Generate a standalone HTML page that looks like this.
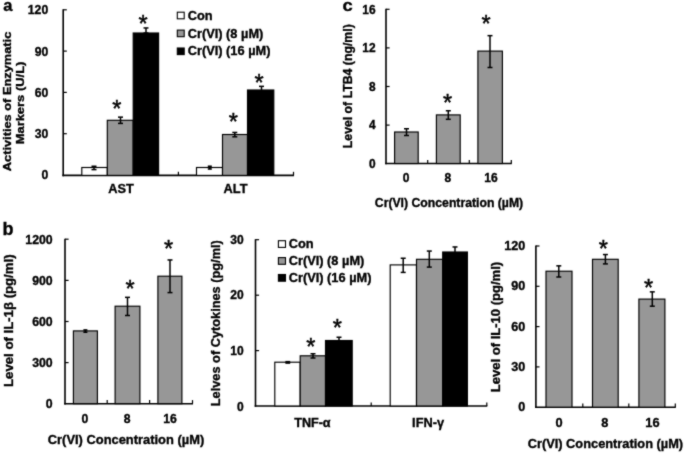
<!DOCTYPE html>
<html><head><meta charset="utf-8"><title>Figure</title>
<style>
html,body{margin:0;padding:0;background:#fff;}
body{width:685px;height:453px;overflow:hidden;font-family:"Liberation Sans",sans-serif;}
svg{display:block;}
svg text{font-family:"Liberation Sans",sans-serif;fill:#000;stroke:#000;stroke-width:0.35px;}
</style></head><body>
<svg width="685" height="453" viewBox="0 0 685 453">
<defs><filter id="soft" x="0" y="0" width="685" height="453" filterUnits="userSpaceOnUse" color-interpolation-filters="sRGB">
<feConvolveMatrix order="3" kernelMatrix="0.03 0.08 0.03 0.08 0.56 0.08 0.03 0.08 0.03" divisor="1" edgeMode="duplicate" preserveAlpha="false"/>
</filter></defs>
<g filter="url(#soft)">
<rect x="0" y="0" width="685" height="453" fill="#ffffff"/>
<text x="3.20" y="10.50" font-size="16.5" text-anchor="start" font-weight="bold">a</text>
<line x1="63.20" y1="9.30" x2="63.20" y2="176.20" stroke="#000" stroke-width="1.6"/>
<line x1="62.40" y1="175.40" x2="294.00" y2="175.40" stroke="#000" stroke-width="1.6"/>
<line x1="63.20" y1="9.80" x2="66.80" y2="9.80" stroke="#000" stroke-width="1.2"/>
<line x1="63.20" y1="51.10" x2="66.80" y2="51.10" stroke="#000" stroke-width="1.2"/>
<line x1="63.20" y1="92.40" x2="66.80" y2="92.40" stroke="#000" stroke-width="1.2"/>
<line x1="63.20" y1="133.70" x2="66.80" y2="133.70" stroke="#000" stroke-width="1.2"/>
<line x1="178.40" y1="175.40" x2="178.40" y2="171.80" stroke="#000" stroke-width="1.2"/>
<line x1="293.50" y1="175.40" x2="293.50" y2="171.80" stroke="#000" stroke-width="1.2"/>
<text x="48.20" y="14.30" font-size="12.2" text-anchor="end" font-weight="bold">120</text>
<text x="48.20" y="55.60" font-size="12.2" text-anchor="end" font-weight="bold">90</text>
<text x="48.20" y="96.90" font-size="12.2" text-anchor="end" font-weight="bold">60</text>
<text x="48.20" y="138.20" font-size="12.2" text-anchor="end" font-weight="bold">30</text>
<text x="48.20" y="179.40" font-size="12.2" text-anchor="end" font-weight="bold">0</text>
<rect x="81.80" y="167.50" width="25.50" height="7.90" fill="#fff" stroke="#000" stroke-width="1.15"/>
<rect x="107.30" y="120.30" width="25.90" height="55.10" fill="#979797" stroke="#000" stroke-width="1.15"/>
<rect x="133.20" y="33.00" width="25.40" height="142.40" fill="#000" stroke="#000" stroke-width="1.15"/>
<rect x="196.50" y="167.50" width="26.00" height="7.90" fill="#fff" stroke="#000" stroke-width="1.15"/>
<rect x="222.50" y="134.50" width="25.00" height="40.90" fill="#979797" stroke="#000" stroke-width="1.15"/>
<rect x="247.50" y="90.00" width="26.30" height="85.40" fill="#000" stroke="#000" stroke-width="1.15"/>
<line x1="94.00" y1="166.25" x2="94.00" y2="169.60" stroke="#000" stroke-width="1.5"/>
<line x1="91.50" y1="166.25" x2="96.50" y2="166.25" stroke="#000" stroke-width="1.5"/>
<line x1="91.50" y1="169.60" x2="96.50" y2="169.60" stroke="#000" stroke-width="1.5"/>
<line x1="120.50" y1="117.15" x2="120.50" y2="123.40" stroke="#000" stroke-width="1.5"/>
<line x1="118.00" y1="117.15" x2="123.00" y2="117.15" stroke="#000" stroke-width="1.5"/>
<line x1="118.00" y1="123.40" x2="123.00" y2="123.40" stroke="#000" stroke-width="1.5"/>
<line x1="146.00" y1="27.95" x2="146.00" y2="33.00" stroke="#000" stroke-width="1.5"/>
<line x1="143.50" y1="27.95" x2="148.50" y2="27.95" stroke="#000" stroke-width="1.5"/>
<line x1="143.50" y1="33.00" x2="148.50" y2="33.00" stroke="#000" stroke-width="1.5"/>
<line x1="209.80" y1="166.25" x2="209.80" y2="169.00" stroke="#000" stroke-width="1.6"/>
<line x1="207.80" y1="166.25" x2="211.80" y2="166.25" stroke="#000" stroke-width="1.6"/>
<line x1="207.80" y1="169.00" x2="211.80" y2="169.00" stroke="#000" stroke-width="1.6"/>
<line x1="234.80" y1="132.45" x2="234.80" y2="136.80" stroke="#000" stroke-width="1.5"/>
<line x1="232.30" y1="132.45" x2="237.30" y2="132.45" stroke="#000" stroke-width="1.5"/>
<line x1="232.30" y1="136.80" x2="237.30" y2="136.80" stroke="#000" stroke-width="1.5"/>
<line x1="261.50" y1="86.35" x2="261.50" y2="91.00" stroke="#000" stroke-width="1.5"/>
<line x1="259.00" y1="86.35" x2="264.00" y2="86.35" stroke="#000" stroke-width="1.5"/>
<line x1="259.00" y1="91.00" x2="264.00" y2="91.00" stroke="#000" stroke-width="1.5"/>
<text x="116.90" y="116.55" font-size="23.5" text-anchor="middle" font-weight="normal" style="stroke-width:0.45px">*</text>
<text x="143.00" y="31.75" font-size="23.5" text-anchor="middle" font-weight="normal" style="stroke-width:0.45px">*</text>
<text x="233.30" y="129.65" font-size="23.5" text-anchor="middle" font-weight="normal" style="stroke-width:0.45px">*</text>
<text x="259.20" y="90.65" font-size="23.5" text-anchor="middle" font-weight="normal" style="stroke-width:0.45px">*</text>
<text x="121.00" y="193.20" font-size="12.8" text-anchor="middle" font-weight="bold">AST</text>
<text x="235.50" y="193.20" font-size="12.8" text-anchor="middle" font-weight="bold">ALT</text>
<text x="10.80" y="101.50" font-size="10.8" text-anchor="middle" font-weight="bold" textLength="139.5" lengthAdjust="spacingAndGlyphs" transform="rotate(-90 10.80 101.50)">Activities of Enzymatic</text>
<text x="24.00" y="103.00" font-size="10.8" text-anchor="middle" font-weight="bold" textLength="82.7" lengthAdjust="spacingAndGlyphs" transform="rotate(-90 24.00 103.00)">Markers (U/L)</text>
<rect x="177.30" y="12.20" width="6.90" height="6.60" fill="#fff" stroke="#000" stroke-width="1.1"/>
<text x="187.70" y="19.60" font-size="12.8" text-anchor="start" font-weight="bold">Con</text>
<rect x="177.30" y="30.10" width="6.90" height="6.60" fill="#979797" stroke="#000" stroke-width="1.1"/>
<text x="187.70" y="37.50" font-size="12.8" text-anchor="start" font-weight="bold">Cr(VI) (8 µM)</text>
<rect x="177.30" y="48.00" width="6.90" height="6.60" fill="#000" stroke="#000" stroke-width="1.1"/>
<text x="187.70" y="55.40" font-size="12.8" text-anchor="start" font-weight="bold">Cr(VI) (16 µM)</text>
<text x="342.60" y="11.00" font-size="17" text-anchor="start" font-weight="bold" textLength="10.2" lengthAdjust="spacingAndGlyphs">c</text>
<line x1="386.00" y1="8.80" x2="386.00" y2="164.30" stroke="#000" stroke-width="1.6"/>
<line x1="385.20" y1="163.50" x2="511.80" y2="163.50" stroke="#000" stroke-width="1.6"/>
<line x1="386.00" y1="9.30" x2="389.60" y2="9.30" stroke="#000" stroke-width="1.2"/>
<line x1="386.00" y1="47.90" x2="389.60" y2="47.90" stroke="#000" stroke-width="1.2"/>
<line x1="386.00" y1="86.50" x2="389.60" y2="86.50" stroke="#000" stroke-width="1.2"/>
<line x1="386.00" y1="125.10" x2="389.60" y2="125.10" stroke="#000" stroke-width="1.2"/>
<line x1="427.70" y1="163.50" x2="427.70" y2="159.90" stroke="#000" stroke-width="1.2"/>
<line x1="469.30" y1="163.50" x2="469.30" y2="159.90" stroke="#000" stroke-width="1.2"/>
<line x1="511.30" y1="163.50" x2="511.30" y2="159.90" stroke="#000" stroke-width="1.2"/>
<text x="375.50" y="13.50" font-size="11.9" text-anchor="end" font-weight="bold">16</text>
<text x="375.50" y="52.10" font-size="11.9" text-anchor="end" font-weight="bold">12</text>
<text x="375.50" y="90.70" font-size="11.9" text-anchor="end" font-weight="bold">8</text>
<text x="375.50" y="129.30" font-size="11.9" text-anchor="end" font-weight="bold">4</text>
<text x="375.50" y="167.70" font-size="11.9" text-anchor="end" font-weight="bold">0</text>
<rect x="394.60" y="132.00" width="23.60" height="31.50" fill="#979797" stroke="#000" stroke-width="1.15"/>
<rect x="436.40" y="114.90" width="23.80" height="48.60" fill="#979797" stroke="#000" stroke-width="1.15"/>
<rect x="477.90" y="51.10" width="24.50" height="112.40" fill="#979797" stroke="#000" stroke-width="1.15"/>
<line x1="406.50" y1="128.75" x2="406.50" y2="135.50" stroke="#000" stroke-width="1.5"/>
<line x1="404.00" y1="128.75" x2="409.00" y2="128.75" stroke="#000" stroke-width="1.5"/>
<line x1="404.00" y1="135.50" x2="409.00" y2="135.50" stroke="#000" stroke-width="1.5"/>
<line x1="448.30" y1="110.75" x2="448.30" y2="119.30" stroke="#000" stroke-width="1.5"/>
<line x1="445.80" y1="110.75" x2="450.80" y2="110.75" stroke="#000" stroke-width="1.5"/>
<line x1="445.80" y1="119.30" x2="450.80" y2="119.30" stroke="#000" stroke-width="1.5"/>
<line x1="490.00" y1="35.65" x2="490.00" y2="67.50" stroke="#000" stroke-width="1.5"/>
<line x1="487.50" y1="35.65" x2="492.50" y2="35.65" stroke="#000" stroke-width="1.5"/>
<line x1="487.50" y1="67.50" x2="492.50" y2="67.50" stroke="#000" stroke-width="1.5"/>
<text x="447.60" y="110.55" font-size="23.5" text-anchor="middle" font-weight="normal" style="stroke-width:0.45px">*</text>
<text x="486.20" y="31.95" font-size="23.5" text-anchor="middle" font-weight="normal" style="stroke-width:0.45px">*</text>
<text x="406.00" y="182.40" font-size="12" text-anchor="middle" font-weight="bold">0</text>
<text x="447.90" y="182.40" font-size="12" text-anchor="middle" font-weight="bold">8</text>
<text x="491.00" y="182.40" font-size="12" text-anchor="middle" font-weight="bold">16</text>
<text x="449.00" y="207.20" font-size="12.8" text-anchor="middle" font-weight="bold" textLength="148.4" lengthAdjust="spacingAndGlyphs">Cr(VI) Concentration (µM)</text>
<text x="352.20" y="86.20" font-size="12.6" text-anchor="middle" font-weight="bold" textLength="124.0" lengthAdjust="spacingAndGlyphs" transform="rotate(-90 352.20 86.20)">Level of LTB4 (ng/ml)</text>
<text x="2.60" y="235.40" font-size="18" text-anchor="start" font-weight="bold">b</text>
<line x1="65.00" y1="238.70" x2="65.00" y2="404.50" stroke="#000" stroke-width="1.6"/>
<line x1="64.20" y1="403.70" x2="193.00" y2="403.70" stroke="#000" stroke-width="1.6"/>
<line x1="65.00" y1="239.20" x2="68.60" y2="239.20" stroke="#000" stroke-width="1.2"/>
<line x1="65.00" y1="280.40" x2="68.60" y2="280.40" stroke="#000" stroke-width="1.2"/>
<line x1="65.00" y1="321.50" x2="68.60" y2="321.50" stroke="#000" stroke-width="1.2"/>
<line x1="65.00" y1="362.60" x2="68.60" y2="362.60" stroke="#000" stroke-width="1.2"/>
<line x1="107.20" y1="403.70" x2="107.20" y2="400.10" stroke="#000" stroke-width="1.2"/>
<line x1="149.60" y1="403.70" x2="149.60" y2="400.10" stroke="#000" stroke-width="1.2"/>
<line x1="192.50" y1="403.70" x2="192.50" y2="400.10" stroke="#000" stroke-width="1.2"/>
<text x="52.70" y="243.90" font-size="12.3" text-anchor="end" font-weight="bold">1200</text>
<text x="52.70" y="285.10" font-size="12.3" text-anchor="end" font-weight="bold">900</text>
<text x="52.70" y="326.20" font-size="12.3" text-anchor="end" font-weight="bold">600</text>
<text x="52.70" y="367.30" font-size="12.3" text-anchor="end" font-weight="bold">300</text>
<text x="52.70" y="408.40" font-size="12.3" text-anchor="end" font-weight="bold">0</text>
<rect x="73.40" y="330.90" width="24.00" height="72.80" fill="#979797" stroke="#000" stroke-width="1.15"/>
<rect x="115.10" y="306.20" width="24.80" height="97.50" fill="#979797" stroke="#000" stroke-width="1.15"/>
<rect x="157.90" y="276.20" width="24.00" height="127.50" fill="#979797" stroke="#000" stroke-width="1.15"/>
<line x1="85.40" y1="329.95" x2="85.40" y2="332.20" stroke="#000" stroke-width="1.6"/>
<line x1="83.40" y1="329.95" x2="87.40" y2="329.95" stroke="#000" stroke-width="1.6"/>
<line x1="83.40" y1="332.20" x2="87.40" y2="332.20" stroke="#000" stroke-width="1.6"/>
<line x1="127.50" y1="297.35" x2="127.50" y2="315.50" stroke="#000" stroke-width="1.5"/>
<line x1="125.00" y1="297.35" x2="130.00" y2="297.35" stroke="#000" stroke-width="1.5"/>
<line x1="125.00" y1="315.50" x2="130.00" y2="315.50" stroke="#000" stroke-width="1.5"/>
<line x1="170.00" y1="259.95" x2="170.00" y2="292.60" stroke="#000" stroke-width="1.5"/>
<line x1="167.50" y1="259.95" x2="172.50" y2="259.95" stroke="#000" stroke-width="1.5"/>
<line x1="167.50" y1="292.60" x2="172.50" y2="292.60" stroke="#000" stroke-width="1.5"/>
<text x="130.00" y="296.75" font-size="23.5" text-anchor="middle" font-weight="normal" style="stroke-width:0.45px">*</text>
<text x="168.60" y="257.45" font-size="23.5" text-anchor="middle" font-weight="normal" style="stroke-width:0.45px">*</text>
<text x="84.80" y="423.00" font-size="12.2" text-anchor="middle" font-weight="bold">0</text>
<text x="127.20" y="423.00" font-size="12.2" text-anchor="middle" font-weight="bold">8</text>
<text x="170.10" y="423.00" font-size="12.2" text-anchor="middle" font-weight="bold">16</text>
<text x="126.00" y="443.80" font-size="12.8" text-anchor="middle" font-weight="bold" textLength="156.4" lengthAdjust="spacingAndGlyphs">Cr(VI) Concentration (µM)</text>
<text x="13.50" y="320.70" font-size="12.7" text-anchor="middle" font-weight="bold" textLength="132.5" lengthAdjust="spacingAndGlyphs" transform="rotate(-90 13.50 320.70)">Level of IL-1β (pg/ml)</text>
<line x1="255.50" y1="239.20" x2="255.50" y2="406.80" stroke="#000" stroke-width="1.6"/>
<line x1="254.70" y1="406.00" x2="487.30" y2="406.00" stroke="#000" stroke-width="1.6"/>
<line x1="255.50" y1="239.70" x2="259.10" y2="239.70" stroke="#000" stroke-width="1.2"/>
<line x1="255.50" y1="295.20" x2="259.10" y2="295.20" stroke="#000" stroke-width="1.2"/>
<line x1="255.50" y1="350.60" x2="259.10" y2="350.60" stroke="#000" stroke-width="1.2"/>
<line x1="371.20" y1="406.00" x2="371.20" y2="402.40" stroke="#000" stroke-width="1.2"/>
<line x1="486.80" y1="406.00" x2="486.80" y2="402.40" stroke="#000" stroke-width="1.2"/>
<text x="243.70" y="243.70" font-size="12" text-anchor="end" font-weight="bold">30</text>
<text x="243.70" y="299.20" font-size="12" text-anchor="end" font-weight="bold">20</text>
<text x="243.70" y="354.60" font-size="12" text-anchor="end" font-weight="bold">10</text>
<text x="243.70" y="410.90" font-size="12" text-anchor="end" font-weight="bold">0</text>
<rect x="274.80" y="362.20" width="25.40" height="43.80" fill="#fff" stroke="#000" stroke-width="1.15"/>
<rect x="300.20" y="355.80" width="25.30" height="50.20" fill="#979797" stroke="#000" stroke-width="1.15"/>
<rect x="325.50" y="340.50" width="26.70" height="65.50" fill="#000" stroke="#000" stroke-width="1.15"/>
<rect x="390.20" y="264.90" width="26.30" height="141.10" fill="#fff" stroke="#000" stroke-width="1.15"/>
<rect x="416.50" y="259.30" width="26.20" height="146.70" fill="#979797" stroke="#000" stroke-width="1.15"/>
<rect x="442.70" y="252.00" width="24.70" height="154.00" fill="#000" stroke="#000" stroke-width="1.15"/>
<line x1="287.80" y1="361.75" x2="287.80" y2="363.00" stroke="#000" stroke-width="1.7"/>
<line x1="285.40" y1="361.75" x2="290.20" y2="361.75" stroke="#000" stroke-width="1.7"/>
<line x1="285.40" y1="363.00" x2="290.20" y2="363.00" stroke="#000" stroke-width="1.7"/>
<line x1="313.00" y1="353.75" x2="313.00" y2="358.00" stroke="#000" stroke-width="1.5"/>
<line x1="310.50" y1="353.75" x2="315.50" y2="353.75" stroke="#000" stroke-width="1.5"/>
<line x1="310.50" y1="358.00" x2="315.50" y2="358.00" stroke="#000" stroke-width="1.5"/>
<line x1="339.00" y1="337.25" x2="339.00" y2="341.00" stroke="#000" stroke-width="1.5"/>
<line x1="336.50" y1="337.25" x2="341.50" y2="337.25" stroke="#000" stroke-width="1.5"/>
<line x1="336.50" y1="341.00" x2="341.50" y2="341.00" stroke="#000" stroke-width="1.5"/>
<line x1="403.20" y1="258.25" x2="403.20" y2="272.40" stroke="#000" stroke-width="1.5"/>
<line x1="400.70" y1="258.25" x2="405.70" y2="258.25" stroke="#000" stroke-width="1.5"/>
<line x1="400.70" y1="272.40" x2="405.70" y2="272.40" stroke="#000" stroke-width="1.5"/>
<line x1="429.30" y1="251.05" x2="429.30" y2="267.10" stroke="#000" stroke-width="1.5"/>
<line x1="426.80" y1="251.05" x2="431.80" y2="251.05" stroke="#000" stroke-width="1.5"/>
<line x1="426.80" y1="267.10" x2="431.80" y2="267.10" stroke="#000" stroke-width="1.5"/>
<line x1="455.00" y1="246.95" x2="455.00" y2="253.00" stroke="#000" stroke-width="1.5"/>
<line x1="452.50" y1="246.95" x2="457.50" y2="246.95" stroke="#000" stroke-width="1.5"/>
<line x1="452.50" y1="253.00" x2="457.50" y2="253.00" stroke="#000" stroke-width="1.5"/>
<text x="310.90" y="355.35" font-size="23.5" text-anchor="middle" font-weight="normal" style="stroke-width:0.45px">*</text>
<text x="337.40" y="335.85" font-size="23.5" text-anchor="middle" font-weight="normal" style="stroke-width:0.45px">*</text>
<text x="312.40" y="427.10" font-size="12.6" text-anchor="middle" font-weight="bold">TNF-α</text>
<text x="428.10" y="427.10" font-size="12.8" text-anchor="middle" font-weight="bold">IFN-γ</text>
<text x="220.00" y="323.20" font-size="12.7" text-anchor="middle" font-weight="bold" textLength="166.0" lengthAdjust="spacingAndGlyphs" transform="rotate(-90 220.00 323.20)">Lelves of Cytokines (pg/ml)</text>
<rect x="278.40" y="240.70" width="7.10" height="6.70" fill="#fff" stroke="#000" stroke-width="1.1"/>
<text x="288.70" y="248.00" font-size="12.8" text-anchor="start" font-weight="bold">Con</text>
<rect x="278.40" y="257.60" width="7.10" height="6.70" fill="#979797" stroke="#000" stroke-width="1.1"/>
<text x="288.70" y="264.90" font-size="12.8" text-anchor="start" font-weight="bold">Cr(VI) (8 µM)</text>
<rect x="278.40" y="274.50" width="7.10" height="6.70" fill="#000" stroke="#000" stroke-width="1.1"/>
<text x="288.70" y="281.80" font-size="12.8" text-anchor="start" font-weight="bold">Cr(VI) (16 µM)</text>
<line x1="535.90" y1="245.50" x2="535.90" y2="408.00" stroke="#000" stroke-width="1.6"/>
<line x1="535.10" y1="407.20" x2="675.80" y2="407.20" stroke="#000" stroke-width="1.6"/>
<line x1="535.90" y1="246.00" x2="539.50" y2="246.00" stroke="#000" stroke-width="1.2"/>
<line x1="535.90" y1="286.30" x2="539.50" y2="286.30" stroke="#000" stroke-width="1.2"/>
<line x1="535.90" y1="326.60" x2="539.50" y2="326.60" stroke="#000" stroke-width="1.2"/>
<line x1="535.90" y1="366.90" x2="539.50" y2="366.90" stroke="#000" stroke-width="1.2"/>
<line x1="582.80" y1="407.20" x2="582.80" y2="403.60" stroke="#000" stroke-width="1.2"/>
<line x1="628.80" y1="407.20" x2="628.80" y2="403.60" stroke="#000" stroke-width="1.2"/>
<line x1="675.30" y1="407.20" x2="675.30" y2="403.60" stroke="#000" stroke-width="1.2"/>
<text x="525.20" y="250.10" font-size="12.6" text-anchor="end" font-weight="bold">120</text>
<text x="525.20" y="290.40" font-size="12.6" text-anchor="end" font-weight="bold">90</text>
<text x="525.20" y="330.70" font-size="12.6" text-anchor="end" font-weight="bold">60</text>
<text x="525.20" y="371.00" font-size="12.6" text-anchor="end" font-weight="bold">30</text>
<text x="525.20" y="411.30" font-size="12.6" text-anchor="end" font-weight="bold">0</text>
<rect x="546.00" y="271.20" width="26.00" height="136.00" fill="#979797" stroke="#000" stroke-width="1.15"/>
<rect x="592.50" y="259.30" width="25.70" height="147.90" fill="#979797" stroke="#000" stroke-width="1.15"/>
<rect x="638.90" y="299.10" width="26.00" height="108.10" fill="#979797" stroke="#000" stroke-width="1.15"/>
<line x1="558.80" y1="265.85" x2="558.80" y2="277.00" stroke="#000" stroke-width="1.5"/>
<line x1="556.30" y1="265.85" x2="561.30" y2="265.85" stroke="#000" stroke-width="1.5"/>
<line x1="556.30" y1="277.00" x2="561.30" y2="277.00" stroke="#000" stroke-width="1.5"/>
<line x1="605.40" y1="254.55" x2="605.40" y2="263.90" stroke="#000" stroke-width="1.5"/>
<line x1="602.90" y1="254.55" x2="607.90" y2="254.55" stroke="#000" stroke-width="1.5"/>
<line x1="602.90" y1="263.90" x2="607.90" y2="263.90" stroke="#000" stroke-width="1.5"/>
<line x1="652.30" y1="291.85" x2="652.30" y2="306.20" stroke="#000" stroke-width="1.5"/>
<line x1="649.80" y1="291.85" x2="654.80" y2="291.85" stroke="#000" stroke-width="1.5"/>
<line x1="649.80" y1="306.20" x2="654.80" y2="306.20" stroke="#000" stroke-width="1.5"/>
<text x="603.30" y="257.35" font-size="23.5" text-anchor="middle" font-weight="normal" style="stroke-width:0.45px">*</text>
<text x="648.50" y="295.75" font-size="23.5" text-anchor="middle" font-weight="normal" style="stroke-width:0.45px">*</text>
<text x="559.10" y="427.00" font-size="12.8" text-anchor="middle" font-weight="bold">0</text>
<text x="604.90" y="427.00" font-size="12.8" text-anchor="middle" font-weight="bold">8</text>
<text x="652.40" y="427.00" font-size="12.8" text-anchor="middle" font-weight="bold">16</text>
<text x="605.40" y="448.00" font-size="12.8" text-anchor="middle" font-weight="bold" textLength="155.5" lengthAdjust="spacingAndGlyphs">Cr(VI) Concentration (µM)</text>
<text x="499.70" y="327.00" font-size="12.7" text-anchor="middle" font-weight="bold" textLength="130.3" lengthAdjust="spacingAndGlyphs" transform="rotate(-90 499.70 327.00)">Level of IL-10 (pg/ml)</text>
</g>
</svg>
</body></html>
